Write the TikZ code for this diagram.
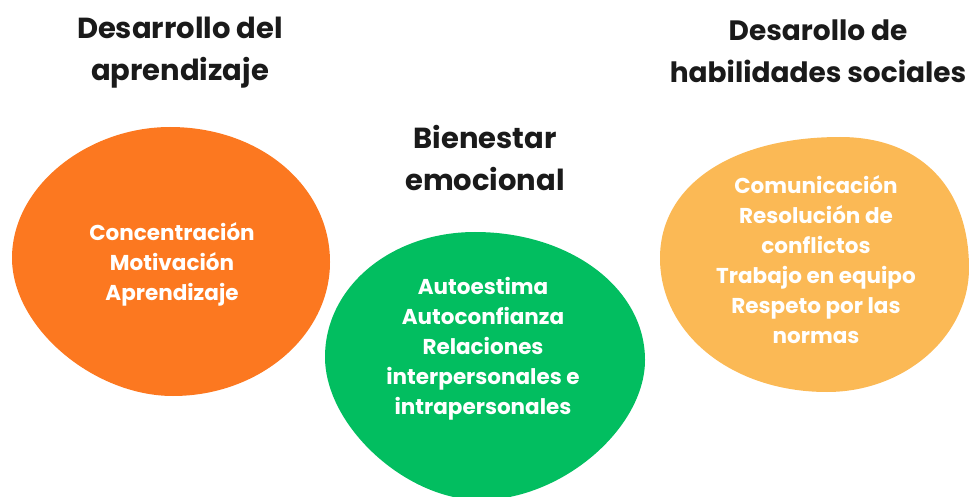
\documentclass[tikz,border=0pt]{standalone}
\usepackage{fontspec}
\setmainfont{Poppins}
\usepackage{tikz}
\definecolor{naranja}{HTML}{FC7820}
\definecolor{verde}{HTML}{02BE60}
\definecolor{ambar}{HTML}{FBB955}
\definecolor{tinta}{HTML}{1A1A1A}
\tikzset{
  titulo/.style={text=tinta, font=\fontsize{29}{42}\selectfont\bfseries, align=center},
  lista/.style={text=white, font=\fontsize{21.5}{30}\selectfont\bfseries, align=center}
}

\begin{document}
\begin{tikzpicture}[x=1pt,y=-1pt]
  \useasboundingbox (0,0) rectangle (969,497);

  % manchas de color
  \fill[naranja] (170,127) .. controls (260,127) and (330,186) .. (330,262)
    .. controls (330,336) and (259,396) .. (173,396)
    .. controls (93,396) and (12,327) .. (12,258)
    .. controls (12,186) and (88,127) .. (170,127) -- cycle;
  \fill[verde] (475,232) .. controls (570,232) and (645,288) .. (645,360)
    .. controls (645,428) and (562,500) .. (480,500)
    .. controls (406,500) and (325,426) .. (325,357)
    .. controls (325,287) and (391,232) .. (475,232) -- cycle;
  \fill[ambar] (840,137) .. controls (920,137) and (969,187) .. (969,268)
    .. controls (969,336) and (905,392) .. (827,392)
    .. controls (732,392) and (660,334) .. (660,258)
    .. controls (660,185) and (732,137) .. (840,137) -- cycle;

  % titulos
  \node[titulo] (aprendizaje) at (180,53) {Desarrollo del\\aprendizaje};
  \node[titulo] (bienestar) at (485,158) {Bienestar\\emocional};
  \node[titulo, font=\fontsize{28}{42}\selectfont\bfseries] (sociales) at (818,51) {Desarollo de\\habilidades sociales};

  % contenidos
  \node[lista] (listaA) at (172,264) {Concentración\\Motivación\\Aprendizaje};
  \node[lista] (listaB) at (483,349) {Autoestima\\Autoconfianza\\Relaciones\\interpersonales e\\intrapersonales};
  \node[lista] (listaC) at (816,260) {Comunicación\\Resolución de\\conflictos\\Trabajo en equipo\\Respeto por las\\normas};
\end{tikzpicture}
\end{document}
